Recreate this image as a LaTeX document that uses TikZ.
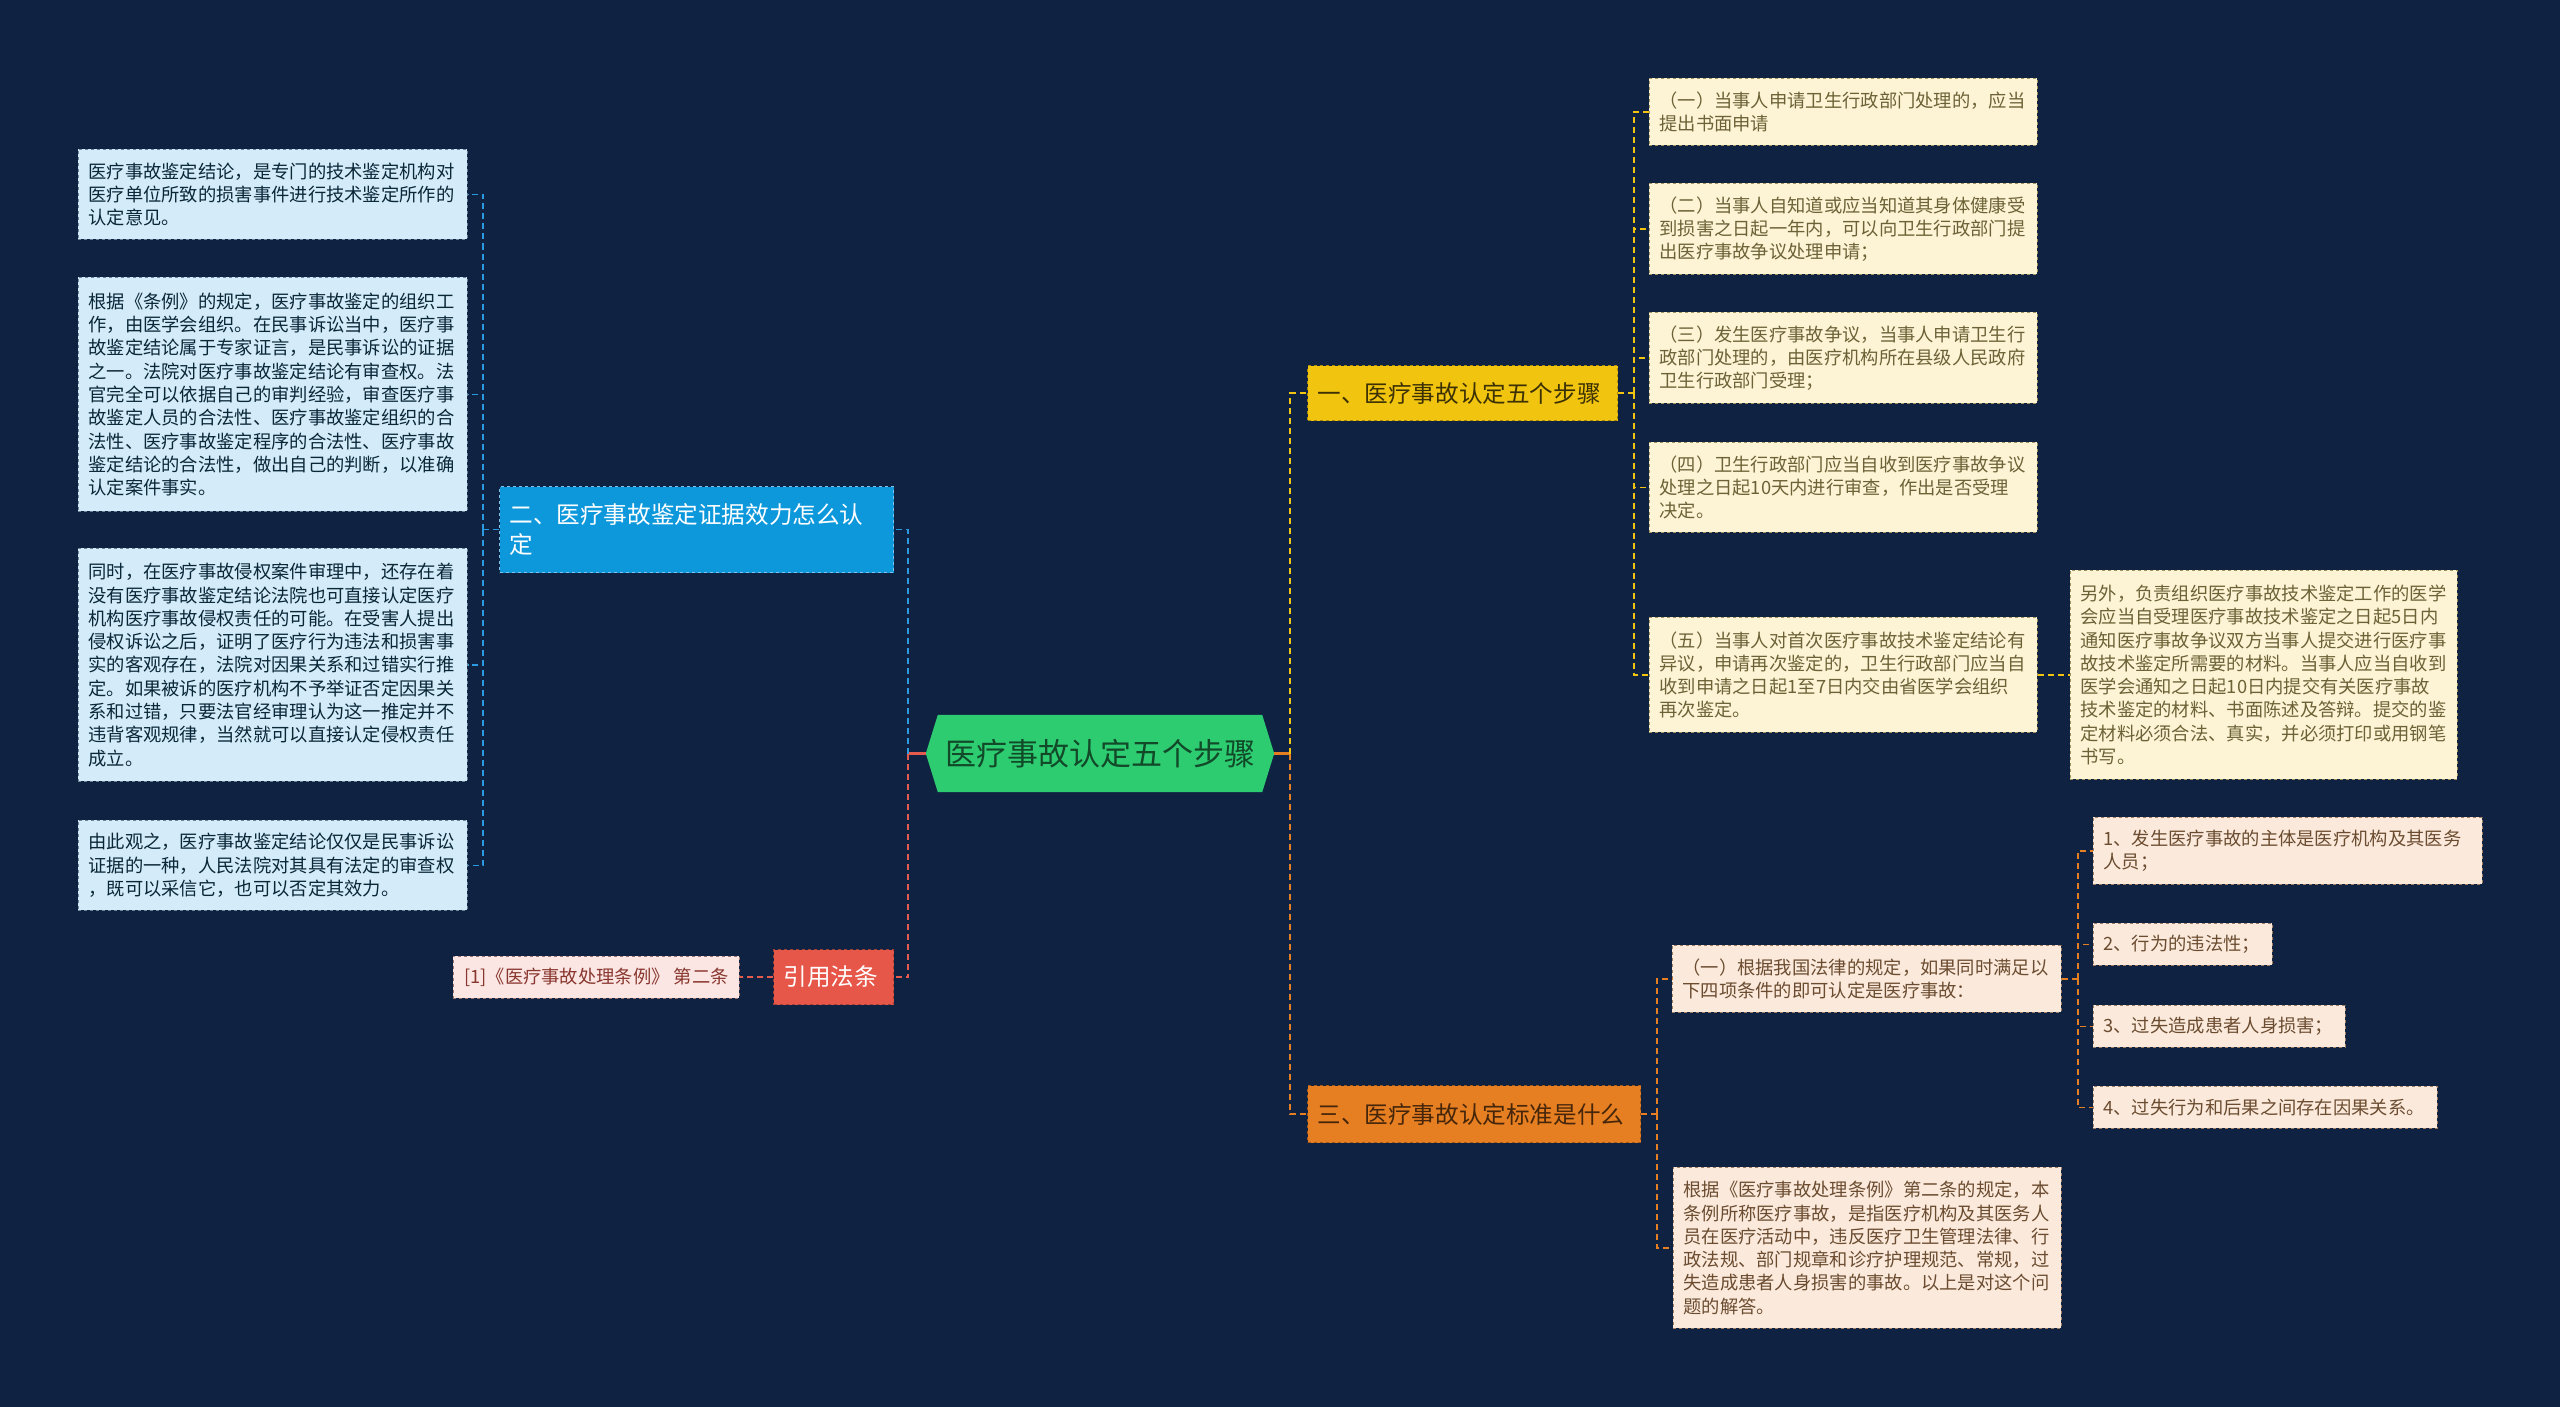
\documentclass[tikz,border=0pt]{standalone}
\usepackage{fontspec}
\setmainfont{Noto Sans CJK SC}
\usetikzlibrary{backgrounds}
\definecolor{bg}{HTML}{0F2241}
\definecolor{lv}{HTML}{2ECC71}
\definecolor{lan}{HTML}{2A9BE0}
\definecolor{lanzhi}{HTML}{0E98DC}
\definecolor{huang}{HTML}{F1C40F}
\definecolor{cheng}{HTML}{E67E22}
\definecolor{hong}{HTML}{E55B4D}
\tikzset{
  zhu/.style={inner sep=0pt,text=black!20!lv!45!black,font=\fontsize{31}{36}\selectfont},
  zhi/.style={draw,dashed,line width=1pt,inner xsep=10pt,inner ysep=0pt,align=left,font=\fontsize{23.6}{30}\selectfont},
  ye/.style={draw,dashed,line width=0.9pt,inner xsep=10pt,inner ysep=0pt,align=left,font=\fontsize{18.3}{23.3}\selectfont},
  yeL/.style={ye,fill=lan!20!white,draw=lan!25!gray,text=lan!25!black},
  yeH/.style={ye,fill=huang!18!white,draw=huang!30!gray,text=huang!30!black!80},
  yeC/.style={ye,fill=cheng!16!white,draw=cheng!30!gray,text=cheng!35!black!85},
  yeR/.style={ye,fill=hong!15!white,draw=hong!30!gray,text=hong!60!black},
  lx/.style={dash pattern=on 6pt off 4pt,line width=1.8pt},
  gx/.style={line width=2.6pt},
}
\begin{document}
\begin{tikzpicture}[x=1pt,y=-1pt]
  \useasboundingbox (0,0) rectangle (2560,1407);
  % zhongxin
  \node[zhu,minimum width=324pt,minimum height=77pt] (zhu) at (1100,753.5) {医疗事故认定五个步骤};
  \coordinate (hl) at (908,753.5);
  \coordinate (hr) at (1290,753.5);
  % zhi
  \node[zhi,anchor=north west,fill=huang,draw=huang!70!black,text=huang!25!black,text width=290pt,minimum height=55pt] (b1) at (1307,365) {一、医疗事故认定五个步骤};
  \node[zhi,anchor=north west,fill=lanzhi,draw=lan!60!white,text=white,text width=374pt,minimum height=86pt] (b2) at (499,486) {二、医疗事故鉴定证据效力怎么认\\定};
  \node[zhi,anchor=north west,fill=cheng,draw=cheng!70!black,text=cheng!30!black,text width=313pt,minimum height=57pt] (b3) at (1307,1085) {三、医疗事故认定标准是什么};
  \node[zhi,anchor=north west,fill=hong!95!red,draw=hong!70!black,text=white,text width=100pt,minimum height=55pt] (fa) at (773,949) {引用法条};
  \node[yeR,anchor=north west,minimum width=286pt,minimum height=42pt] (ref) at (453,955.5) {[1]《医疗事故处理条例》 第二条};
  % zuo
  \node[yeL,anchor=north west,text width=369pt,minimum height=90pt] (l1) at (78,149) {医疗事故鉴定结论，是专门的技术鉴定机构对\\医疗单位所致的损害事件进行技术鉴定所作的\\认定意见。};
  \node[yeL,anchor=north west,text width=369pt,minimum height=234pt] (l2) at (78,277) {根据《条例》的规定，医疗事故鉴定的组织工\\作，由医学会组织。在民事诉讼当中，医疗事\\故鉴定结论属于专家证言，是民事诉讼的证据\\之一。法院对医疗事故鉴定结论有审查权。法\\官完全可以依据自己的审判经验，审查医疗事\\故鉴定人员的合法性、医疗事故鉴定组织的合\\法性、医疗事故鉴定程序的合法性、医疗事故\\鉴定结论的合法性，做出自己的判断，以准确\\认定案件事实。};
  \node[yeL,anchor=north west,text width=369pt,minimum height=233pt] (l3) at (78,548) {同时，在医疗事故侵权案件审理中，还存在着\\没有医疗事故鉴定结论法院也可直接认定医疗\\机构医疗事故侵权责任的可能。在受害人提出\\侵权诉讼之后，证明了医疗行为违法和损害事\\实的客观存在，法院对因果关系和过错实行推\\定。如果被诉的医疗机构不予举证否定因果关\\系和过错，只要法官经审理认为这一推定并不\\违背客观规律，当然就可以直接认定侵权责任\\成立。};
  \node[yeL,anchor=north west,text width=369pt,minimum height=90pt] (l4) at (78,820) {由此观之，医疗事故鉴定结论仅仅是民事诉讼\\证据的一种，人民法院对其具有法定的审查权\\，既可以采信它，也可以否定其效力。};
  % you, yi
  \node[yeH,anchor=north west,text width=368pt,minimum height=67pt] (r1) at (1649,78) {（一）当事人申请卫生行政部门处理的，应当\\提出书面申请};
  \node[yeH,anchor=north west,text width=368pt,minimum height=91pt] (r2) at (1649,183) {（二）当事人自知道或应当知道其身体健康受\\到损害之日起一年内，可以向卫生行政部门提\\出医疗事故争议处理申请；};
  \node[yeH,anchor=north west,text width=368pt,minimum height=91pt] (r3) at (1649,312) {（三）发生医疗事故争议，当事人申请卫生行\\政部门处理的，由医疗机构所在县级人民政府\\卫生行政部门受理；};
  \node[yeH,anchor=north west,text width=368pt,minimum height=90pt] (r4) at (1649,442) {（四）卫生行政部门应当自收到医疗事故争议\\处理之日起10天内进行审查，作出是否受理\\决定。};
  \node[yeH,anchor=north west,text width=368pt,minimum height=115pt] (r5) at (1649,617) {（五）当事人对首次医疗事故技术鉴定结论有\\异议，申请再次鉴定的，卫生行政部门应当自\\收到申请之日起1至7日内交由省医学会组织\\再次鉴定。};
  \node[yeH,anchor=north west,text width=367pt,minimum height=209pt] (r6) at (2070,570) {另外，负责组织医疗事故技术鉴定工作的医学\\会应当自受理医疗事故技术鉴定之日起5日内\\通知医疗事故争议双方当事人提交进行医疗事\\故技术鉴定所需要的材料。当事人应当自收到\\医学会通知之日起10日内提交有关医疗事故\\技术鉴定的材料、书面陈述及答辩。提交的鉴\\定材料必须合法、真实，并必须打印或用钢笔\\书写。};
  % you, san
  \node[yeC,anchor=north west,text width=369pt,minimum height=67pt] (t1) at (1672,945) {（一）根据我国法律的规定，如果同时满足以\\下四项条件的即可认定是医疗事故：};
  \node[yeC,anchor=north west,text width=368pt,minimum height=161pt] (t2) at (1673,1167) {根据《医疗事故处理条例》第二条的规定，本\\条例所称医疗事故，是指医疗机构及其医务人\\员在医疗活动中，违反医疗卫生管理法律、行\\政法规、部门规章和诊疗护理规范、常规，过\\失造成患者人身损害的事故。以上是对这个问\\题的解答。};
  \node[yeC,anchor=north west,text width=369pt,minimum height=67pt] (c1) at (2093,817) {1、发生医疗事故的主体是医疗机构及其医务\\人员；};
  \node[yeC,anchor=north west,text width=159pt,minimum height=42pt] (c2) at (2093,923) {2、行为的违法性；};
  \node[yeC,anchor=north west,text width=232pt,minimum height=42pt] (c3) at (2093,1005) {3、过失造成患者人身损害；};
  \node[yeC,anchor=north west,text width=324pt,minimum height=42pt] (c4) at (2093,1086) {4、过失行为和后果之间存在因果关系。};
  % lianxian
  \draw[gx,hong] ([xshift=-12pt]zhu.west) -- (hl);
  \draw[gx,cheng] ([xshift=12pt]zhu.east) -- (hr);
  \draw[lx,lan] (hl) |- (b2.east);
  \draw[lx,hong] (hl) |- (fa.east);
  \draw[lx,huang] (hr) |- (b1.west);
  \draw[lx,cheng] (hr) |- (b3.west);
  \draw[lx,lan] (b2.west) -- ++(-16,0) coordinate (j2);
  \foreach \i in {1,...,4} \draw[lx,lan] (j2) |- (l\i.east);
  \draw[lx,hong] (fa.west) -- (ref.east);
  \draw[lx,huang] (b1.east) -- ++(16,0) coordinate (j1);
  \foreach \i in {1,...,5} \draw[lx,huang] (j1) |- (r\i.west);
  \draw[lx,huang] (r5.east) -- (r6.west);
  \draw[lx,cheng] (b3.east) -- ++(16,0) coordinate (j3);
  \foreach \i in {1,2} \draw[lx,cheng] (j3) |- (t\i.west);
  \draw[lx,cheng] (t1.east) -- ++(16,0) coordinate (j4);
  \foreach \i in {1,...,4} \draw[lx,cheng] (j4) |- (c\i.west);
  \begin{scope}[on background layer]
    \fill[bg] (0,0) rectangle (2560,1407);
    \fill[lv] ([xshift=-12pt]zhu.west) -- (zhu.north west) -- (zhu.north east)
      -- ([xshift=12pt]zhu.east) -- (zhu.south east) -- (zhu.south west) -- cycle;
  \end{scope}
\end{tikzpicture}
\end{document}
